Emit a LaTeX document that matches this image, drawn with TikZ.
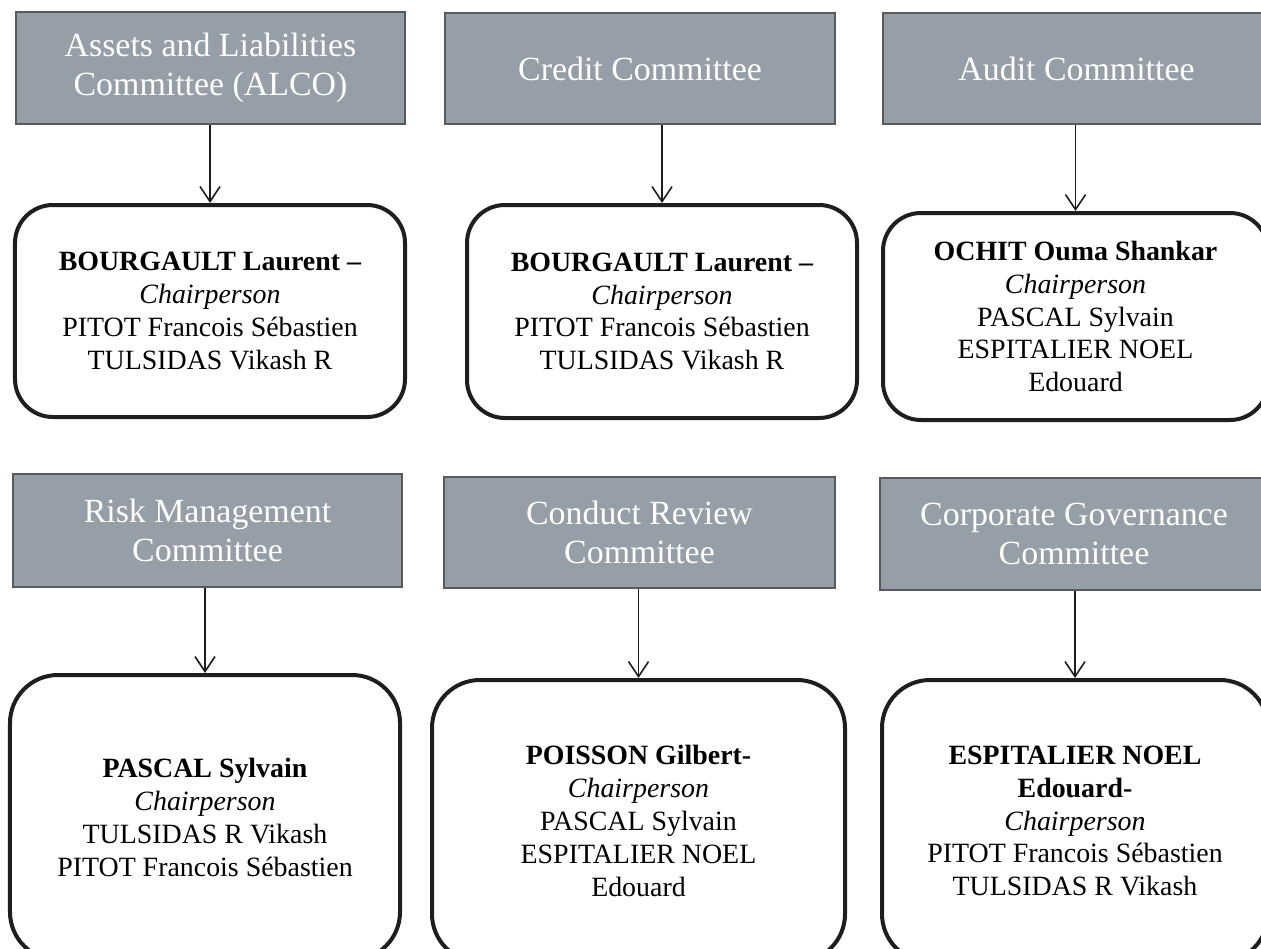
\documentclass[tikz,border=0pt]{standalone}
\usepackage{fontspec}
\setmainfont{Liberation Serif}
\usetikzlibrary{arrows.meta}
\definecolor{hdrfill}{RGB}{150,158,167}
\definecolor{hdrline}{RGB}{90,90,90}
\definecolor{boxline}{RGB}{30,30,30}
\begin{document}
\begin{tikzpicture}[x=1bp,y=-1bp,
  hdr/.style={draw=hdrline, line width=2bp, fill=hdrfill, text=white, align=center,
    font=\fontsize{34}{39}\selectfont, inner sep=0pt},
  member/.style={draw=boxline, line width=4bp, fill=white, rounded corners=38bp, align=center,
    font=\fontsize{28}{33}\selectfont, inner sep=0pt},
  link/.style={line width=1.6bp, draw=boxline, -{Straight Barb[length=15bp,width=20bp]}}]
\useasboundingbox (0,0) rectangle (1261,949);
\clip (0,0) rectangle (1261,949);
% headers
\node[hdr, minimum width=389bp, minimum height=112bp] (h1) at (210.5,68) {Assets and Liabilities\\Committee (ALCO)};
\node[hdr, minimum width=390bp, minimum height=111bp] (h2) at (640,68.5) {Credit Committee};
\node[hdr, minimum width=387bp, minimum height=111bp] (h3) at (1076.5,68.5) {Audit Committee};
\node[hdr, minimum width=389bp, minimum height=113bp] (h4) at (207.5,530.5) {Risk Management\\Committee};
\node[hdr, minimum width=391bp, minimum height=111bp] (h5) at (639.5,532.5) {Conduct Review\\Committee};
\node[hdr, minimum width=388bp, minimum height=112bp] (h6) at (1074,534) {Corporate Governance\\Committee};
% member boxes
\node[member, minimum width=390bp, minimum height=212bp] (b1) at (210,311) {\textbf{BOURGAULT Laurent –}\\\textit{Chairperson}\\PITOT Francois Sébastien\\TULSIDAS Vikash R};
\node[member, minimum width=390bp, minimum height=213bp] (b2) at (662,311.5) {\textbf{BOURGAULT Laurent –}\\\textit{Chairperson}\\PITOT Francois Sébastien\\TULSIDAS Vikash R};
\node[member, minimum width=385bp, minimum height=207bp] (b3) at (1075.5,316.5) {\textbf{OCHIT Ouma Shankar}\\\textit{Chairperson}\\PASCAL Sylvain\\ESPITALIER NOEL\\Edouard};
\node[member, rounded corners=48bp, minimum width=390bp, minimum height=285bp] (b4) at (205,817.5) {\textbf{PASCAL Sylvain}\\\textit{Chairperson}\\TULSIDAS R Vikash\\PITOT Francois Sébastien};
\node[member, rounded corners=48bp, minimum width=413bp, minimum height=282bp] (b5) at (638.5,821) {\textbf{POISSON Gilbert-}\\\textit{Chairperson}\\PASCAL Sylvain\\ESPITALIER NOEL\\Edouard};
\node[member, rounded corners=48bp, minimum width=386bp, minimum height=282bp] (b6) at (1075,821) {\textbf{ESPITALIER NOEL}\\\textbf{Edouard-}\\\textit{Chairperson}\\PITOT Francois Sébastien\\TULSIDAS R Vikash};
% connectors
\draw[link] (b1.north |- h1.south) -- (b1.north);
\draw[link] (b2.north |- h2.south) -- (b2.north);
\draw[link] (b3.north |- h3.south) -- (b3.north);
\draw[link] (b4.north |- h4.south) -- (b4.north);
\draw[link] (b5.north |- h5.south) -- (b5.north);
\draw[link] (b6.north |- h6.south) -- (b6.north);
\end{tikzpicture}
\end{document}
